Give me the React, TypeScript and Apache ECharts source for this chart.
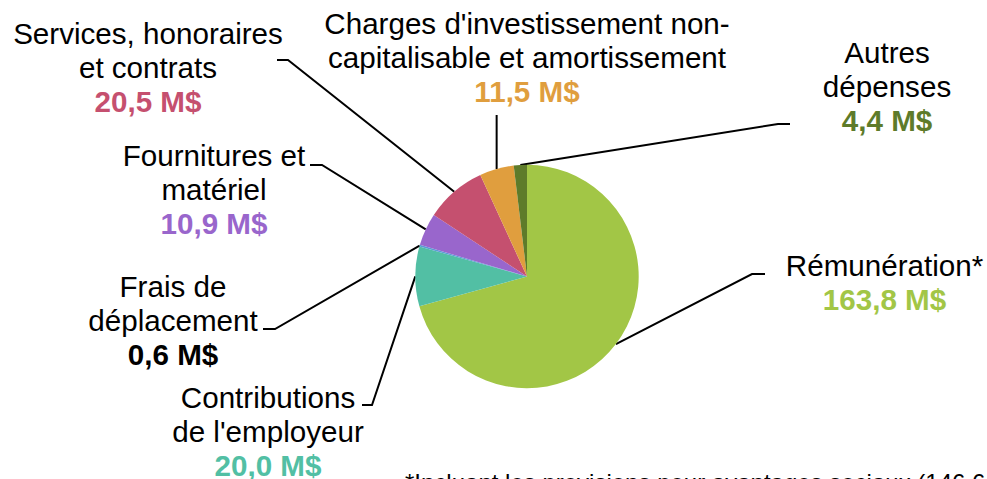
import React, { useEffect, useRef } from "react";
import * as echarts from "echarts";

// ---- Data ----
const categories = [
  "Rémunération*",
  "Contributions\nde l'employeur",
  "Frais de\ndéplacement",
  "Fournitures et\nmatériel",
  "Services, honoraires\net contrats",
  "Charges d'investissement non-\ncapitalisable et amortissement",
  "Autres\ndépenses",
];
const values = [163.8, 20.0, 0.6, 10.9, 20.5, 11.5, 4.4];
const unit = " M$";
const footnote = "*Incluant les provisions pour avantages sociaux (146,6 M$)";

// ---- Styles ----
const sliceColors = ["#A2C646", "#52BFA4", "#5B9BD5", "#9966CC", "#C5506F", "#E09E3E", "#5E7B2A"];
const valueColors = ["#A2C646", "#52BFA4", "#000000", "#9966CC", "#C5506F", "#E09E3E", "#5E7B2A"];
const FONT = '"Liberation Sans", Arial, sans-serif';

// ---- Label layout (block centre, line elbow, line end) ----
const labelCenter: number[][] = [
  [884.5, 282.5],
  [268, 431],
  [173, 320],
  [214, 189],
  [148, 67],
  [527, 57],
  [887, 86],
];
const lineElbow: (number[] | null)[] = [
  [752, 274],
  [372, 405],
  [275, 329],
  [322, 165],
  [288, 60],
  null,
  [778, 124],
];
const lineEnd: number[][] = [
  [765, 274],
  [362, 405],
  [263, 329],
  [310, 165],
  [277, 60],
  [497, 115],
  [790, 124],
];

const fmt = (v: number) => v.toFixed(1).replace(".", ",") + unit;

export default function App() {
  const ref = useRef<HTMLDivElement>(null);
  useEffect(() => {
    if (!ref.current) return;
    const chart = echarts.init(ref.current, undefined, { renderer: "svg" });
    const rich: any = {
      n: { fontSize: 29.6, fontFamily: FONT, color: "#000", lineHeight: 34, align: "center" },
    };
    valueColors.forEach((c, i) => {
      rich["v" + i] = {
        fontSize: 29.6,
        fontFamily: FONT,
        fontWeight: "bold",
        color: c,
        lineHeight: 34,
        align: "center",
      };
    });
    const cx = 527,
      cy = 276.5,
      r = 111.7;
    chart.setOption({
      animation: false,
      backgroundColor: "#ffffff",
      graphic: [
        {
          type: "text",
          left: 405,
          top: 470,
          style: {
            text: footnote,
            fontSize: 24,
            fontFamily: FONT,
            fill: "#000",
          },
        },
      ],
      series: [
        {
          type: "pie",
          center: [cx, cy],
          radius: [0, r],
          startAngle: 90,
          clockwise: true,
          avoidLabelOverlap: false,
          silent: true,
          itemStyle: { borderWidth: 0 },
          label: {
            show: true,
            position: "outside",
            formatter: (p: any) => `{n|${categories[p.dataIndex]}}\n{v${p.dataIndex}|${fmt(values[p.dataIndex])}}`,
            rich,
          },
          labelLine: {
            show: true,
            lineStyle: { color: "#000", width: 2 },
          },
          labelLayout: (params: any) => {
            const i = params.dataIndex;
            let start = params.labelLinePoints && params.labelLinePoints[0];
            if (!start) {
              const total = values.reduce((a, b) => a + b, 0);
              let cum = 0;
              for (let k = 0; k < i; k++) cum += values[k];
              const mid = ((cum + values[i] / 2) / total) * Math.PI * 2;
              start = [cx + r * Math.sin(mid), cy - r * Math.cos(mid)];
            }
            const pts: number[][] = [start];
            if (lineElbow[i]) {
              pts.push(lineElbow[i] as number[]);
              pts.push(lineEnd[i]);
            } else {
              pts.push([start[0], lineEnd[i][1]]);
            }
            return {
              x: labelCenter[i][0],
              y: labelCenter[i][1],
              align: "center",
              verticalAlign: "middle",
              labelLinePoints: pts,
            };
          },
          data: categories.map((name, i) => ({
            name,
            value: values[i],
            itemStyle: { color: sliceColors[i] },
          })),
        },
      ],
    });
    return () => chart.dispose();
  }, []);
  return (
    <div
      ref={ref}
      style={{ position: "fixed", left: 0, top: 0, width: 987, height: 479, background: "#fff" }}
    />
  );
}
